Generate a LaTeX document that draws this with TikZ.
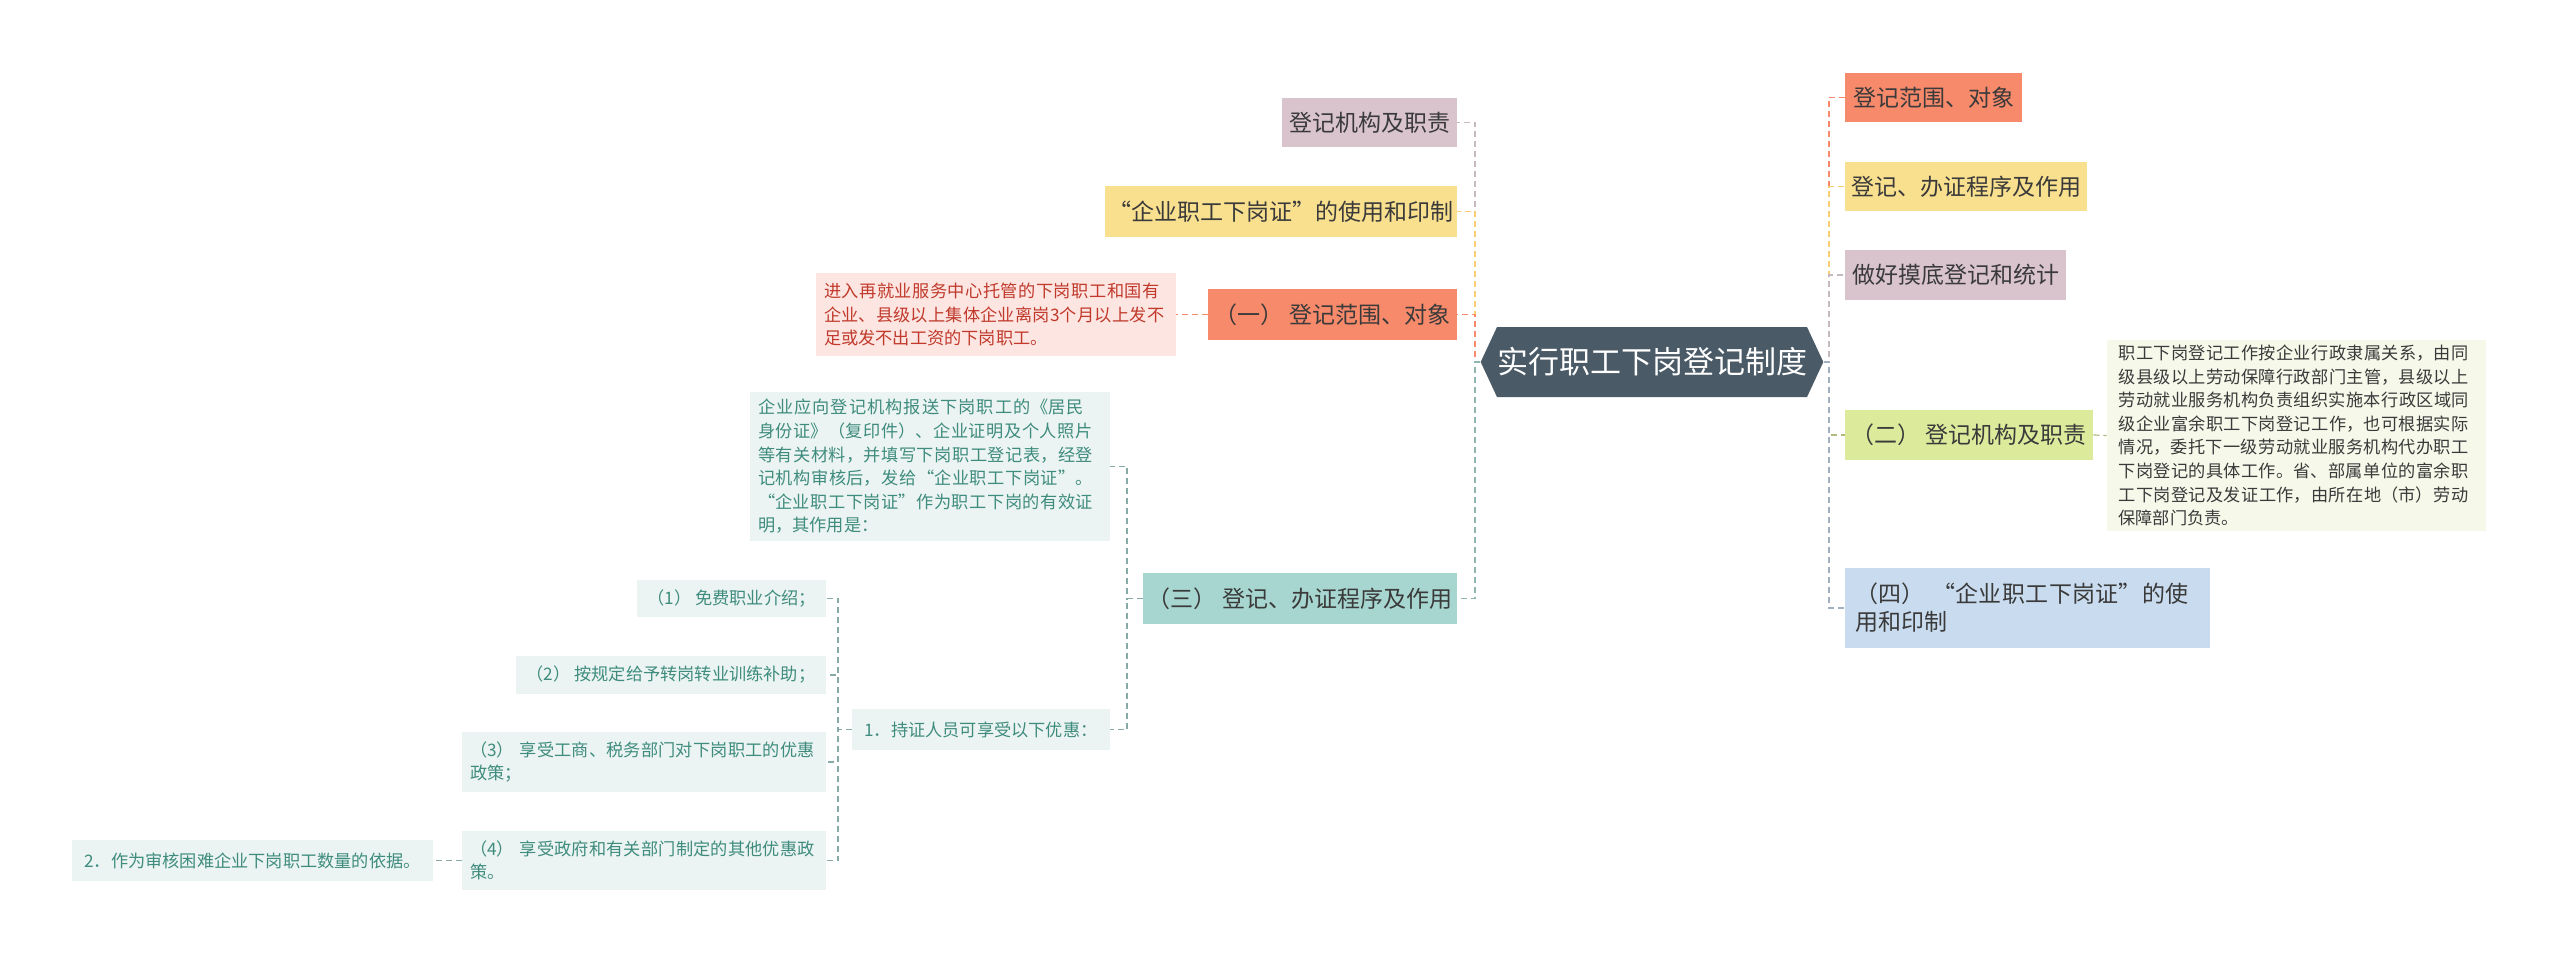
\documentclass[tikz,border=0pt]{standalone}
\usepackage{fontspec}
\setmainfont{Noto Sans CJK SC}
\XeTeXlinebreaklocale "zh"
\XeTeXlinebreakskip=0pt plus 1pt
\usetikzlibrary{shapes.symbols}
\definecolor{salmon}{HTML}{F78A6B}
\definecolor{yel}{HTML}{F9E08F}
\definecolor{mauve}{HTML}{D9C4CE}
\definecolor{teal2}{HTML}{A7D5CF}
\definecolor{grn}{HTML}{DCEA9C}
\definecolor{blu}{HTML}{C9DBEE}
\definecolor{redbg}{HTML}{FDE5E1}
\definecolor{redtx}{HTML}{C0392B}
\definecolor{tealbg}{HTML}{EBF4F2}
\definecolor{tealtx}{HTML}{3F8C7E}
\definecolor{grnbg}{HTML}{F6F9EA}
\definecolor{ctr}{HTML}{4A5A66}
\definecolor{txt}{HTML}{3A3A3A}
\tikzset{
 mainbox/.style={inner sep=0pt, text=txt, font=\fontsize{11.5}{14}\selectfont, align=center},
 smallbox/.style={inner sep=0pt, font=\fontsize{8.6}{11.8}\selectfont},
 conn/.style={dashed, dash pattern=on 3pt off 2pt, line width=0.6pt},
}
\begin{document}
\begin{tikzpicture}[x=0.5pt,y=-0.5pt]
\useasboundingbox[fill=white] (0,0) rectangle (2560,965);
% center
\node[signal, signal to=west and east, signal pointer angle=130, fill=ctr, text=white, minimum width=161pt, minimum height=35pt, inner sep=0pt, font=\fontsize{15.5}{18}\selectfont] (c) at (1652,362) {实行职工下岗登记制度};
% left main
\node[mainbox, fill=mauve, minimum width=87.5pt, minimum height=24.5pt] (l1) at (1369.5,122.5) {登记机构及职责};
\node[mainbox, fill=yel, minimum width=176pt, minimum height=25.5pt] (l2) at (1281,211.5) {“企业职工下岗证”的使用和印制};
\node[mainbox, fill=salmon, minimum width=124.5pt, minimum height=25.5pt] (l3) at (1332.5,314.5) {（一） 登记范围、对象};
\node[mainbox, fill=teal2, minimum width=157pt, minimum height=25.5pt] (l4) at (1300,598.5) {（三） 登记、办证程序及作用};
% red detail
\node[smallbox, fill=redbg, text=redtx, minimum width=180pt, minimum height=41.5pt, text width=172pt, align=left, inner xsep=4pt] (rd) at (996,314.5) {进入再就业服务中心托管的下岗职工和国有企业、县级以上集体企业离岗3个月以上发不足或发不出工资的下岗职工。};
% teal detail
\node[smallbox, fill=tealbg, text=tealtx, minimum width=180pt, minimum height=74.5pt, text width=172pt, align=left, inner xsep=4pt] (td) at (930,466.5) {企业应向登记机构报送下岗职工的《居民身份证》（复印件）、企业证明及个人照片等有关材料，并填写下岗职工登记表，经登记机构审核后，发给“企业职工下岗证”。“企业职工下岗证”作为职工下岗的有效证明，其作用是：};
\node[smallbox, fill=tealbg, text=tealtx, minimum width=129pt, minimum height=20.5pt] (n1) at (981,729.5) {1．持证人员可享受以下优惠：};
\node[smallbox, fill=tealbg, text=tealtx, minimum width=94.5pt, minimum height=18.5pt] (p1) at (731.5,598.5) {（1） 免费职业介绍；};
\node[smallbox, fill=tealbg, text=tealtx, minimum width=155pt, minimum height=19pt] (p2) at (671,675) {（2） 按规定给予转岗转业训练补助；};
\node[smallbox, fill=tealbg, text=tealtx, minimum width=182pt, minimum height=30pt, text width=174pt, align=left] (p3) at (644,762) {（3）~享受工商、税务部门对下岗职工的优惠政策；};
\node[smallbox, fill=tealbg, text=tealtx, minimum width=182pt, minimum height=29.5pt, text width=174pt, align=left] (p4) at (644,860.5) {（4）~享受政府和有关部门制定的其他优惠政策。};
\node[smallbox, fill=tealbg, text=tealtx, minimum width=180.5pt, minimum height=20.5pt] (n2) at (252.5,860.5) {2．作为审核困难企业下岗职工数量的依据。};
% right main
\node[mainbox, fill=salmon, minimum width=88.5pt, minimum height=24.5pt] (r1) at (1933.5,97.5) {登记范围、对象};
\node[mainbox, fill=yel, minimum width=121pt, minimum height=24.5pt] (r2) at (1966,186.5) {登记、办证程序及作用};
\node[mainbox, fill=mauve, minimum width=110.5pt, minimum height=25pt] (r3) at (1955.5,275) {做好摸底登记和统计};
\node[mainbox, fill=grn, minimum width=124pt, minimum height=25pt] (r4) at (1969,435) {（二） 登记机构及职责};
\node[mainbox, fill=blu, minimum width=182.5pt, minimum height=40pt, text width=172pt, align=left] (r5) at (2027.5,608) {（四）~“企业职工下岗证”的使用和印制};
\node[smallbox, fill=grnbg, text=txt, minimum width=189.5pt, minimum height=95.5pt, text width=178pt, align=left] (gd) at (2296.5,435.5) {职工下岗登记工作按企业行政隶属关系，由同级县级以上劳动保障行政部门主管，县级以上劳动就业服务机构负责组织实施本行政区域同级企业富余职工下岗登记工作，也可根据实际情况，委托下一级劳动就业服务机构代办职工下岗登记的具体工作。省、部属单位的富余职工下岗登记及发证工作，由所在地（市）劳动保障部门负责。};
% connectors left
\draw[conn, draw=mauve!80!black!70] (c.west) -- (1475,362) |- (l1.east);
\draw[conn, draw=yel!80!orange] (c.west) -- (1475,362) |- (l2.east);
\draw[conn, draw=salmon] (c.west) -- (1475,362) |- (l3.east);
\draw[conn, draw=teal2!85!black] (c.west) -- (1475,362) |- (l4.east);
% connectors right
\draw[conn, draw=salmon] (c.east) -- (1829,362) |- (r1.west);
\draw[conn, draw=yel!80!orange] (c.east) -- (1829,362) |- (r2.west);
\draw[conn, draw=mauve!80!black!70] (c.east) -- (1829,362) |- (r3.west);
\draw[conn, draw=grn!80!black] (c.east) -- (1829,362) |- (r4.west);
\draw[conn, draw=blu!80!black] (c.east) -- (1829,362) |- (r5.west);
% second level
\draw[conn, draw=salmon] (l3.west) -- (rd.east);
\draw[conn, draw=grn!80!black] (r4.east) -- (gd.west);
\draw[conn, draw=teal2!80!black] (l4.west) -- (1127,598.5) |- (td.east);
\draw[conn, draw=teal2!80!black] (l4.west) -- (1127,598.5) |- (n1.east);
\foreach \p in {p1,p2,p3,p4}
  \draw[conn, draw=teal2!80!black] (n1.west) -- (838,729.5) |- (\p.east);
\draw[conn, draw=teal2!80!black] (p4.west) -- (n2.east);
\end{tikzpicture}
\end{document}
